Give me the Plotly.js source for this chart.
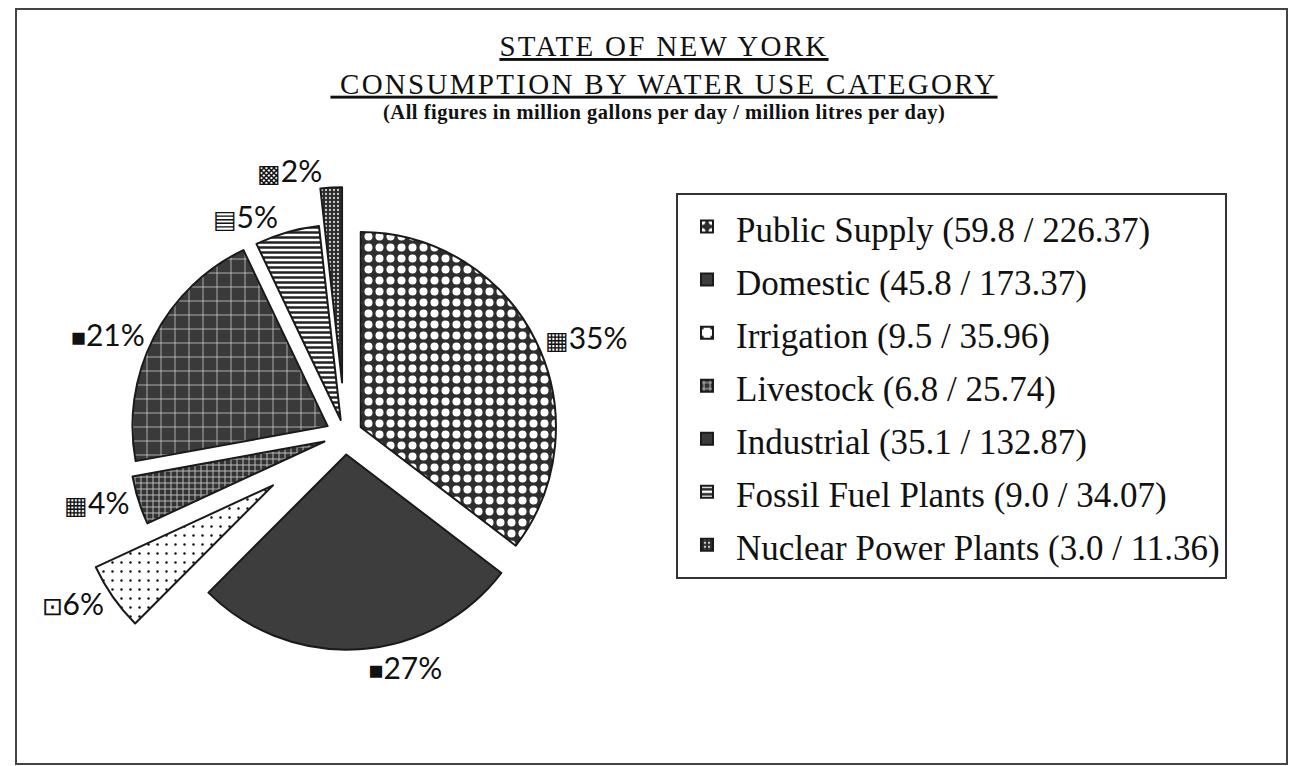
<!DOCTYPE html>
<html>
<head>
<meta charset="utf-8">
<script src="https://cdn.plot.ly/plotly-3.0.1.min.js"></script>
<style>html,body{margin:0;padding:0;background:#fff;}#chart{width:1293px;height:766px;}</style>
</head>
<body>
<div id="chart"></div>
<script>
// ---- data ----
var categories = ['Public Supply', 'Domestic', 'Irrigation', 'Livestock', 'Industrial', 'Fossil Fuel Plants', 'Nuclear Power Plants'];
var mgd = [59.8, 45.8, 9.5, 6.8, 35.1, 9.0, 3.0];          // million gallons per day
var mgdText = ['59.8', '45.8', '9.5', '6.8', '35.1', '9.0', '3.0'];
var mld = ['226.37', '173.37', '35.96', '25.74', '132.87', '34.07', '11.36']; // million litres per day
var labelIcons = ['\u25A6', '\u25A0', '\u22A1', '\u25A6', '\u25A0', '\u25A4', '\u25A9'];
var titleLines = ['STATE OF NEW YORK', ' CONSUMPTION BY WATER USE CATEGORY'];
var subtitleText = '(All figures in million gallons per day / million litres per day)';

// ---- styles ----
var pulls = [0.09, 0.10, 0.45, 0.11, 0.10, 0.08, 0.27];
var patterns = {
  shape:    ['.',       '',        '.',       '+',       '+',       '-',       '.'],
  bgcolor:  ['#2e2e2e', '#3d3d3d', '#ffffff', '#333333', '#3a3a3a', '#ffffff', '#2a2a2a'],
  fgcolor:  ['#ffffff', '#3d3d3d', '#111111', '#bbbbbb', '#d8d8d8', '#222222', '#d0d0d0'],
  size:     [11, 8, 9, 6, 14, 5, 4],
  solidity: [0.42, 0.3, 0.06, 0.3, 0.1, 0.5, 0.25]
};
var sliceColors = ['#2e2e2e', '#3d3d3d', '#ffffff', '#333333', '#3a3a3a', '#ffffff', '#2a2a2a'];

var legendLabels = categories.map(function (c, i) {
  return '<span style="font-size:35px">' + c + ' (' + mgdText[i] + ' / ' + mld[i] + ')</span>';
});
var iconText = labelIcons.map(function (g) { return '<span style="font-size:25px">' + g + '</span>'; });

var W = 1293, H = 766;
var cx = 345, cy = 435, box = 566;

var trace = {
  type: 'pie',
  labels: legendLabels,
  values: mgd,
  customdata: iconText,
  sort: false,
  direction: 'clockwise',
  rotation: 0,
  pull: pulls,
  textposition: 'outside',
  texttemplate: '%{customdata}%{percent:.0%}',
  outsidetextfont: {family: 'Lato, "Open Sans", sans-serif', size: 30, color: '#111'},
  marker: {
    colors: sliceColors,
    pattern: patterns,
    line: {color: '#1a1a1a', width: 2}
  },
  hoverinfo: 'none',
  domain: {
    x: [(cx - box / 2) / W, (cx + box / 2) / W],
    y: [1 - (cy + box / 2) / H, 1 - (cy - box / 2) / H]
  }
};

var ls = 'letter-spacing:2.3px';
var layout = {
  width: W, height: H,
  margin: {l: 0, r: 0, t: 0, b: 0},
  paper_bgcolor: '#fff',
  font: {family: '"Liberation Serif", serif', color: '#111'},
  title: {
    text: '<span style="' + ls + '"><u>' + titleLines[0] + '</u></span><br><span style="' + ls + '"><u>' + titleLines[1] + '</u></span>',
    x: 664 / W, xanchor: 'center',
    y: 1 - 56 / H, yanchor: 'top',
    font: {family: '"Liberation Serif", serif', size: 29, color: '#111'}
  },
  annotations: [{
    text: '<b><span style="letter-spacing:0.5px">' + subtitleText + '</span></b>',
    xref: 'paper', yref: 'paper',
    x: 664 / W, y: 1 - 112 / H, xanchor: 'center', yanchor: 'middle',
    showarrow: false,
    font: {family: '"Liberation Serif", serif', size: 20.5, color: '#111'}
  }],
  showlegend: true,
  legend: {
    x: 676 / W, xanchor: 'left',
    y: 1 - 193 / H, yanchor: 'top',
    bgcolor: '#fff',
    bordercolor: '#333',
    borderwidth: 2,
    itemwidth: 48,
    font: {family: '"Liberation Serif", serif', size: 38.5, color: '#111'}
  },
  shapes: [{
    type: 'rect', xref: 'paper', yref: 'paper',
    x0: 16 / W, x1: 1287 / W, y0: 1 - 764 / H, y1: 1 - 9 / H,
    line: {color: '#444', width: 2}
  }]
};

Plotly.newPlot('chart', [trace], layout, {displayModeBar: false, staticPlot: true});
</script>
</body>
</html>
